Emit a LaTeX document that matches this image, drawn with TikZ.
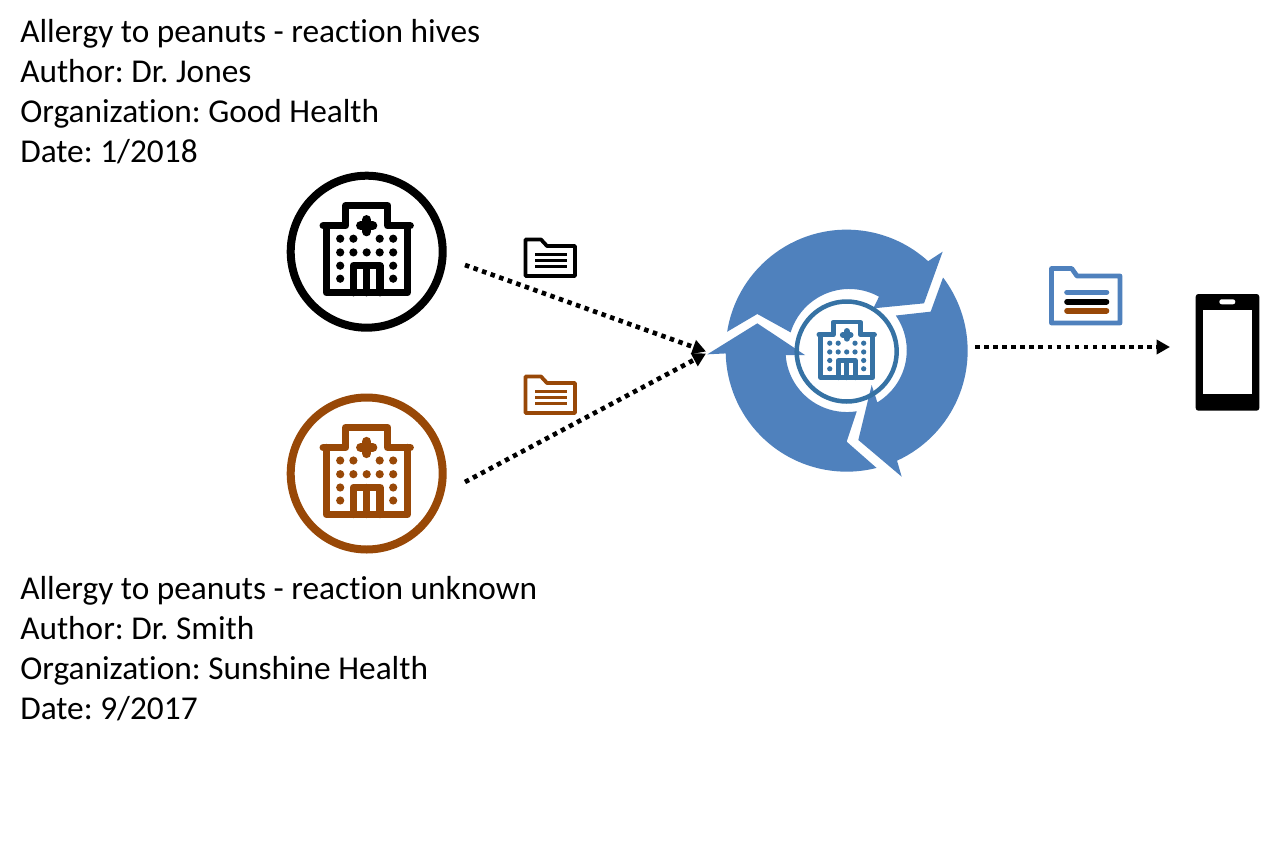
\documentclass[tikz,border=0pt]{standalone}
\usepackage{fontspec}
\setmainfont[Ligatures=NoCommon]{Carlito}
\usetikzlibrary{arrows.meta}
\definecolor{hubblue}{HTML}{4F81BD}
\definecolor{icoblue}{HTML}{3672A4}
\definecolor{rust}{HTML}{984807}
\tikzset{
  infotext/.style={anchor=north west,align=left,inner sep=0pt,font=\fontsize{25}{30}\selectfont\frenchspacing,text=black},
  flow/.style={line width=3.5pt,dash pattern=on 3.4pt off 3.4pt,-{Triangle[length=10pt,width=10.5pt]},black},
  hubarrow/.style={fill=hubblue,draw=none},
}
% \hosp{name}{x}{y}{colour}{scale}{ring width px}{ring diameter px}
\newcommand{\hosp}[7]{%
  \pgfmathsetmacro{\s}{#5}%
  \pgfmathsetmacro{\lw}{7.4*\s*0.75}%
  \pgfmathsetmacro{\crossw}{9.3*\s*0.75}%
  \pgfmathsetmacro{\dia}{#7*0.75}%
  \pgfmathsetmacro{\rw}{#6*0.75}%
  \pgfmathsetmacro{\unit}{\s*0.75}%
  \node[circle,draw=#4,line width=\rw pt,minimum size=\dia pt,inner sep=0pt] (#1) at (#2,#3) {};
  \begin{scope}[shift={(#2,#3)},x=\unit pt,y=-\unit pt,draw=#4,fill=#4,line width=\lw pt,line join=round,line cap=round]
    \draw (-43.5,-26) -- (-21,-26) -- (-21,-46) -- (21,-46) -- (21,-26) -- (43.5,-26);
    \draw (-40.5,-26) -- (-40.5,41) -- (40.5,41) -- (40.5,-26);
    \draw (-13.3,41) -- (-13.3,14) -- (13.3,14) -- (13.3,41) (0,14) -- (0,41);
    \draw[line width=\crossw pt] (0,-32) -- (0,-20) (-6,-26) -- (6,-26);
    \foreach \px/\py in {-26.5/-13,-13.3/-13,13/-13,26.5/-13,
                         -26.5/0.7,-13.3/0.7,0/0.7,13/0.7,26.5/0.7,
                         -26.5/14,26.5/14,-26.5/27,26.5/27}
      \fill (\px,\py) circle[radius=4.1];
  \end{scope}}
\begin{document}
\begin{tikzpicture}[x=0.75pt,y=-0.75pt]
\useasboundingbox (0,0) rectangle (1282,857);
\fill[white] (0,0) rectangle (1282,857);

\node[infotext] (infoA) at (20,19) {Allergy to peanuts - reaction hives\\Author: Dr. Jones\\Organization: Good Health\\Date: 1/2018};
\node[infotext] (infoB) at (20,576) {Allergy to peanuts - reaction unknown\\Author: Dr. Smith\\Organization: Sunshine Health\\Date: 9/2017};

\hosp{hospA}{366.7}{251.7}{black}{1}{8}{152}
\hosp{hospB}{366.7}{473.5}{rust}{1}{8}{152}

% circular hub arrows
\begin{scope}[shift={(700,215)},x=0.25pt,y=-0.25pt]
  \fill[hubarrow] (440,407) ++(189:363) arc[start angle=189,end angle=312.3,radius=363]
     -- (728,110) -- (672,265) -- (520,280) -- (537,245)
     arc[start angle=299,end angle=197,radius=184] -- (172,297) -- cycle;
  \fill[hubarrow] (440,407) ++(-37.2:363) arc[start angle=-37.2,end angle=65.4,radius=363]
     -- (605,785) -- (475,675) -- (515,510) -- (532,562)
     arc[start angle=59,end angle=-35,radius=182] -- (692,290) -- cycle;
  \fill[hubarrow] (440,407) ++(75.7:363) arc[start angle=75.7,end angle=178.7,radius=363]
     -- (22,418) -- (172,325) -- (315,420) -- (257,420)
     arc[start angle=176,end angle=80.7,radius=184] -- (440,680) -- cycle;
\end{scope}
\hosp{hospC}{846.7}{351.5}{icoblue}{0.64}{4.5}{100}

% folders
\foreach \fy/\fc in {0/black,137/rust}{
  \begin{scope}[shift={(0,\fy)},draw=\fc,line join=round]
    \draw[line width=2.8pt] (525.5,239.5) -- (541,239.5) -- (547,246) -- (575,246) -- (575,276) -- (525.5,276) -- cycle;
    \draw[line width=2.2pt] (535,254.3) -- (566.7,254.3) (535,260.5) -- (566.7,260.5) (535,266.7) -- (566.7,266.7);
  \end{scope}}
\draw[hubblue,line width=3.6pt,line join=round] (1051.5,268.5) -- (1071.7,268.5) -- (1077,276) -- (1120,276) -- (1120,323) -- (1051.5,323) -- cycle;
\draw[line width=4.2pt,line cap=round,hubblue] (1067,292.3) -- (1106.5,292.3);
\draw[line width=4.2pt,line cap=round,black] (1067,301.7) -- (1106.5,301.7);
\draw[line width=4.2pt,line cap=round,rust] (1067,310.7) -- (1106.5,310.7);

% phone
\fill[black,rounded corners=2pt] (1195.7,294) rectangle (1259.3,410.7);
\fill[white] (1203.3,310) rectangle (1251.7,394.3);
\fill[white,rounded corners=1.8pt] (1219.3,299.3) rectangle (1235.3,304.3);

% connectors
\coordinate (fromA) at (465,265);
\coordinate (fromB) at (465,482);
\coordinate (intoA) at (706,351.5);
\coordinate (intoB) at (706,353.5);
\coordinate (fromHub) at (975,347);
\coordinate (toPhone) at (1170,347);
\draw[flow] (fromA) -- (intoA);
\draw[flow] (fromB) -- (intoB);
\draw[flow] (fromHub) -- (toPhone);
\end{tikzpicture}
\end{document}
